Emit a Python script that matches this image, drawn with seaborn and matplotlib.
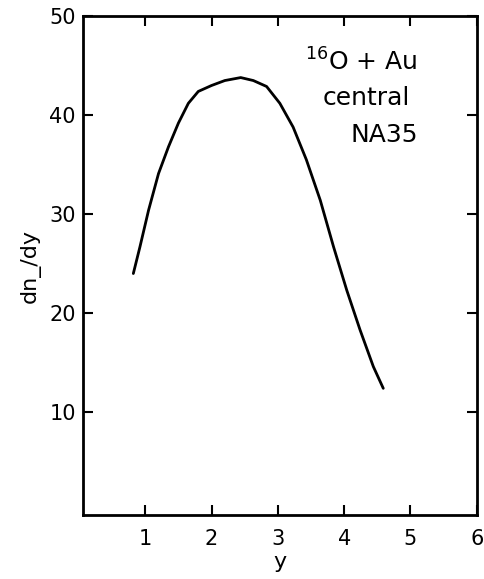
import numpy as np
import pandas as pd
import seaborn as sns
import matplotlib.pyplot as plt

# rapidity distribution
rapidity = [0.82, 0.92, 1.05, 1.20, 1.35, 1.50, 1.65, 1.80, 2.00, 2.20, 2.44,
            2.63, 2.83, 3.03, 3.23, 3.43, 3.64, 3.84, 4.04, 4.24, 4.44, 4.59]
dndy = [24.0, 26.7, 30.4, 34.1, 36.8, 39.2, 41.2, 42.4, 43.0, 43.5, 43.8,
        43.5, 42.9, 41.2, 38.8, 35.5, 31.4, 26.7, 22.3, 18.3, 14.6, 12.4]

xticks = [1, 2, 3, 4, 5, 6]
yticks = [10, 20, 30, 40, 50]

df = pd.DataFrame({'y': rapidity, 'dn': dndy})

sns.set_style('ticks', {'text.color': 'black', 'axes.labelcolor': 'black',
                        'xtick.color': 'black', 'ytick.color': 'black'})
plt.rcParams['font.family'] = ['DejaVu Sans']

fig = plt.figure(figsize=(4.85, 5.79), dpi=100)
ax = fig.add_axes([0.171, 0.1105, 0.812, 0.8615])

sns.lineplot(data=df, x='y', y='dn', color='black', linewidth=2, ax=ax)

ax.set_xlim(0.06, 6)
ax.set_ylim(-0.4, 50)
ax.set_xticks(xticks)
ax.set_yticks(yticks)
ax.set_xticklabels([str(t) for t in xticks], fontsize=15)
ax.set_yticklabels([str(t) for t in yticks], fontsize=15)
ax.tick_params(direction='in', length=7, width=1.5, top=True, right=True)
ax.tick_params(axis='x', pad=10)
ax.tick_params(axis='y', pad=5)
for s in ax.spines.values():
    s.set_linewidth(2)
    s.set_color('black')

ax.set_xlabel('y', fontsize=16, labelpad=2)
ax.set_ylabel('dn_/dy', fontsize=16, labelpad=6)

ax.text(0.85, 0.935, r'$^{16}$O + Au', transform=ax.transAxes, ha='right', va='top', fontsize=18)
ax.text(0.72, 0.86, 'central', transform=ax.transAxes, ha='center', va='top', fontsize=18)
ax.text(0.85, 0.785, 'NA35', transform=ax.transAxes, ha='right', va='top', fontsize=18)

plt.savefig('out.png', dpi=100)
